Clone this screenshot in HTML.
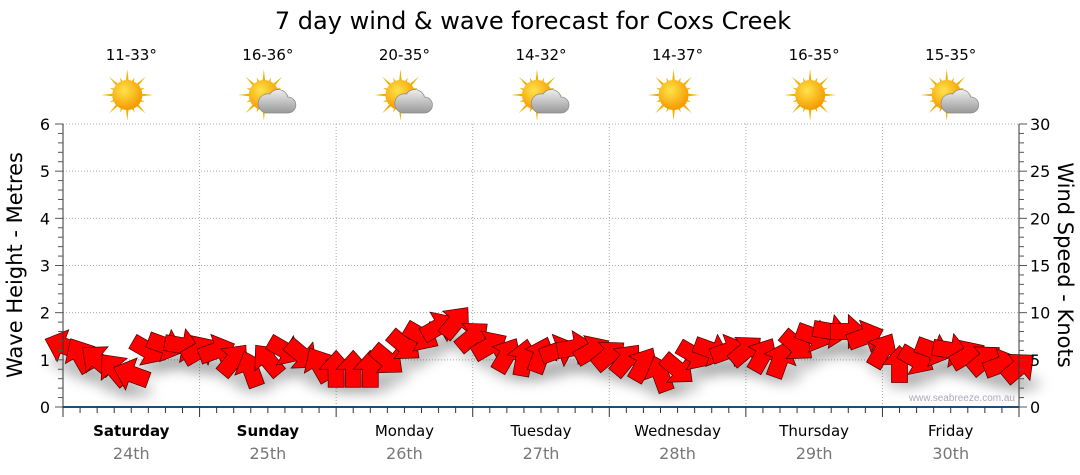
<!DOCTYPE html>
<html><head><meta charset="utf-8"><style>
body{margin:0;background:#fff;}
svg{display:block;font-family:"DejaVu Sans","Liberation Sans",sans-serif;}
</style></head><body>
<svg id="chart" width="1080" height="475" viewBox="0 0 1080 475">
<defs>
<filter id="sh" x="-50%" y="-50%" width="200%" height="200%"><feGaussianBlur stdDeviation="6"/></filter>
<radialGradient id="sun" cx="40%" cy="35%" r="65%"><stop offset="0" stop-color="#ffe34a"/><stop offset="1" stop-color="#f59a00"/></radialGradient>
<linearGradient id="cl" x1="0" y1="0" x2="0" y2="1"><stop offset="0" stop-color="#eee"/><stop offset="1" stop-color="#999"/></linearGradient>
</defs>
<text x="533" y="29" font-size="24" text-anchor="middle" fill="#000">7 day wind &amp; wave forecast for Coxs Creek</text>
<g id="grid"></g><g id="icons"></g><g id="shadows" filter="url(#sh)"></g><g id="arrows"></g><g id="axes"></g>
<text x="1015" y="401" font-size="10" fill="#aab" text-anchor="end" font-family="Liberation Sans, sans-serif">www.seabreeze.com.au</text>
<text transform="translate(22,265) rotate(-90)" font-size="21" text-anchor="middle">Wave Height - Metres</text>
<text transform="translate(1058,265) rotate(90)" font-size="21" text-anchor="middle">Wind Speed - Knots</text>
</svg>
<script>
const days=["Saturday","Sunday","Monday","Tuesday","Wednesday","Thursday","Friday"];
const dates=["24th","25th","26th","27th","28th","29th","30th"];
const temps=["11-33°","16-36°","20-35°","14-32°","14-37°","16-35°","15-35°"];
const cloudy=[0,1,1,1,0,0,1];
const waveTicks=[0,1,2,3,4,5,6];
const windTicks=[0,5,10,15,20,25,30];
const windKnots=[6.5,5.5,5,4,3.5,6,6.5,6.5, 6,6,5,4,5,6,5.5,4.5, 4,4,4,5,6.5,7.5,8.5,9, 7.5,6.5,5.5,5.2,5.5,6,6.3,6, 5.5,5,4.5,3.5,4,5.5,6,6, 6,5.5,5,6.5,7.5,8,8,7.5, 6,4.5,5,6,6,5.5,5,4.5,4.2];
const windDir=[200,240,220,230,200,30,20,10, 330,340,310,250,230,30,40,240, 270,270,270,40,40,30,330,310, 320,330,300,280,290,340,350,330, 320,310,300,250,40,30,20,340, 320,300,290,40,20,10,0,340, 300,270,30,20,10,330,320,340,320];
const X0=63,X1=1019,Y0=407,Y1=124;
const xs=i=>X0+(X1-X0)*i/(windKnots.length-1);
const yw=v=>Y0-(Y0-Y1)*v/30;
const ym=v=>Y0-(Y0-Y1)*v/6;
const NS="http://www.w3.org/2000/svg";
function mk(t,a,p){const e=document.createElementNS(NS,t);for(const k in a)e.setAttribute(k,a[k]);(p||document.getElementById('chart')).appendChild(e);return e;}
const grid=document.getElementById('grid'),axes=document.getElementById('axes'),icons=document.getElementById('icons');
const dw=(X1-X0)/7;
for(let i=1;i<7;i++){const l=mk('line',{x1:X0+dw*i,x2:X0+dw*i,y1:Y1,y2:Y0,stroke:'#aaa','stroke-dasharray':'1,2'},grid);}
waveTicks.forEach(v=>{if(v>0){const l=mk('line',{x1:X0,x2:X1,y1:ym(v),y2:ym(v),stroke:'#aaa','stroke-dasharray':'1,2'},grid);}
 const t=mk('text',{x:50,y:ym(v)+6,'font-size':16,'text-anchor':'end'},axes);t.textContent=v;});
windTicks.forEach(v=>{const t=mk('text',{x:1030,y:yw(v)+6,'font-size':16},axes);t.textContent=v;});
mk('line',{x1:X0,x2:X0,y1:Y1,y2:Y0,stroke:'#333'},axes);
mk('line',{x1:X1,x2:X1,y1:Y1,y2:Y0,stroke:'#333'},axes);
for(let k=0;k<=30;k++){const y=Y0-(Y0-Y1)*k/30;const L=k%5==0?8:5;
 mk('line',{x1:X0-L,x2:X0,y1:y,y2:y,stroke:'#555'},axes);mk('line',{x1:X1,x2:X1+L,y1:y,y2:y,stroke:'#555'},axes);}
mk('line',{x1:X0,x2:X1,y1:Y0,y2:Y0,stroke:'#1a4f7a','stroke-width':2},axes);
for(let k=0;k<=56;k++){const x=X0+(X1-X0)*k/56;mk('line',{x1:x,x2:x,y1:Y0,y2:Y0+(k%8==0?10:6),stroke:'#333'},axes);}
days.forEach((d,i)=>{const cx=X0+dw*(i+0.5);
 const a=mk('text',{x:cx,y:436,'font-size':15,'text-anchor':'middle','font-weight':i<2?'bold':'normal'},axes);a.textContent=d;
 const b=mk('text',{x:cx,y:459,'font-size':16,'text-anchor':'middle',fill:'#777'},axes);b.textContent=dates[i];
 const t=mk('text',{x:cx,y:60,'font-size':15,'text-anchor':'middle'},icons);t.textContent=temps[i];
 const g=mk('g',{transform:`translate(${cx-4},95)`},icons);
 for(let r=0;r<16;r++){const an=r*Math.PI/8,L=r%2?19:26;mk('polygon',{points:`${Math.cos(an)*L},${Math.sin(an)*L} ${Math.cos(an+0.13)*12},${Math.sin(an+0.13)*12} ${Math.cos(an-0.13)*12},${Math.sin(an-0.13)*12}`,fill:'#f0b000'},g);}
 mk('circle',{cx:0,cy:0,r:15,fill:'url(#sun)'},g);
 if(cloudy[i]){mk('path',{d:'M2,18 h22 a8,8 0 0 0 0,-16 a10,10 0 0 0 -18,-3 a9,9 0 0 0 -4,19z',fill:'url(#cl)',stroke:'#888','stroke-width':0.7},g);}
});
const sh=document.getElementById('shadows'),ar=document.getElementById('arrows');
const pts="-18,-8 0,-8 0,-17 19,0 0,17 0,8 -18,8";
windKnots.forEach((v,i)=>{const x=xs(i),y=yw(v);
 mk('ellipse',{cx:x+4,cy:y+16,rx:18,ry:9,fill:'#000',opacity:0.2},sh);
 const p=mk('polygon',{points:pts,transform:`translate(${x},${y}) rotate(${windDir[i]})`,fill:'#f00',stroke:'#400','stroke-width':0.7},ar);
 });
</script>
</body></html>
